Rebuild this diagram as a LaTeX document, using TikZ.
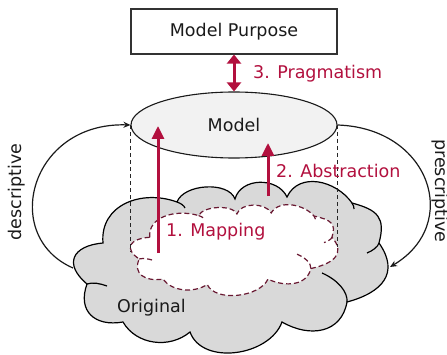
\documentclass[tikz,border=0pt]{standalone}
\usepackage{fontspec}
\setmainfont{DejaVu Sans}
\usetikzlibrary{arrows.meta,shapes.geometric}
\definecolor{crim}{RGB}{178,16,62}
\definecolor{dashred}{RGB}{105,25,50}
\definecolor{cloudgray}{RGB}{217,217,217}
\definecolor{ellgray}{RGB}{242,242,242}
\definecolor{txt}{RGB}{26,26,26}
\tikzset{
  cloudpath/.style={insert path={(103,111) .. controls (99.7,148.9) and (141.3,165) .. (177,152)
    .. controls (183.6,170.1) and (228.4,173.1) .. (235,155)
    .. controls (240.8,176.6) and (277.5,177.3) .. (287,157)
    .. controls (298.8,182.4) and (335.9,173.9) .. (352,151)
    .. controls (377.6,144.1) and (385.9,136.6) .. (379,111)
    .. controls (400,81) and (382.4,61.5) .. (347,52)
    .. controls (341.5,20.6) and (309.6,16) .. (282,32)
    .. controls (269.6,-2) and (202.4,-12) .. (190,22)
    .. controls (169.6,4.9) and (136.3,9) .. (123,32)
    .. controls (94.7,27) and (77.2,43) .. (87,70)
    .. controls (63.3,89.9) and (72.1,108.3) .. (103,111) -- cycle}},
  cloudtails/.style={insert path={(177,152) .. controls (181,150.5) and (184,148.5) .. (185,146)
    (352,151) .. controls (353.5,149) and (354,147) .. (354,145)
    (379,111) .. controls (378,107) and (372,103) .. (367,101)
    (347,52) .. controls (348,62) and (338,74) .. (322,81)
    (87,70) .. controls (93,72) and (100,70.5) .. (107,68)}},
  redarrow/.style={crim, line width=3pt},
  redlabel/.style={crim, anchor=base west, inner sep=0pt},
  sidearrow/.style={txt, line width=1.2pt, -{Stealth[length=7pt,width=6pt]}},
  guide/.style={black!85, line width=1pt, dash pattern=on 4pt off 3pt},
  every node/.style={font=\fontsize{17.5}{21}\selectfont, text=txt}
}
\begin{document}
\begin{tikzpicture}[x=1pt,y=1pt]
\useasboundingbox (0,0) rectangle (447,354);
% outer cloud
\draw[fill=cloudgray, line width=1.2pt, cloudpath];
\draw[line width=1.2pt, cloudtails];
% inner dashed cloud
\begin{scope}[shift={(81.8,57.9)}, xscale=0.66, yscale=0.53]
  \draw[fill=white, draw=dashred, line width=1.2pt, dash pattern=on 5pt off 3pt, cloudpath];
  \draw[dashred, line width=1.2pt, dash pattern=on 5pt off 3pt, cloudtails];
\end{scope}
% nodes
\node[draw=black!80, line width=1.1pt, minimum width=206pt, minimum height=45pt, inner sep=0pt] (purpose) at (234,322.5) {Model Purpose};
\coordinate (dl) at (131,102);
\coordinate (dr) at (337,107);
\node[ellipse, draw=txt, fill=ellgray, line width=1.1pt, minimum width=206pt, minimum height=66pt, inner sep=0pt] (model) at (234,229) {Model};
\draw[guide] (model.west) -- (model.west |- dl);
\draw[guide] (model.east) -- (model.east |- dr);
% red arrows
\draw[redarrow, {Triangle[length=9pt,width=14pt]}-{Triangle[length=9pt,width=14pt]}] (purpose.south) -- (model.north);
\coordinate (mapS) at (158,101);
\coordinate (mapE) at (158,228);
\draw[redarrow, -{Triangle[length=13pt,width=12pt]}] (mapS) -- (mapE);
\coordinate (absS) at (268,158);
\coordinate (absE) at (268,211);
\draw[redarrow, -{Triangle[length=13pt,width=12pt]}] (absS) -- (absE);
% side arrows
\coordinate (lstart) at (73,86);
\coordinate (rend) at (390,87);
\draw[sidearrow] (lstart) .. controls (0,118) and (30,232) .. (model.west);
\draw[sidearrow] (model.east) .. controls (430,226) and (462,130) .. (rend);
% labels
\node[redlabel, text=crim] (lprag) at (253,275) {3. Pragmatism};
\node[redlabel, text=crim] (labs) at (276,177) {2. Abstraction};
\node[redlabel, text=crim] (lmap) at (166,118) {1. Mapping};
\node[anchor=base west, inner sep=0pt] (lorig) at (117,42) {Original};
\node[rotate=90, inner sep=0pt] (ldesc) at (17,162) {descriptive};
\node[rotate=-90, inner sep=0pt] (lpres) at (440,163) {prescriptive};
\end{tikzpicture}
\end{document}
